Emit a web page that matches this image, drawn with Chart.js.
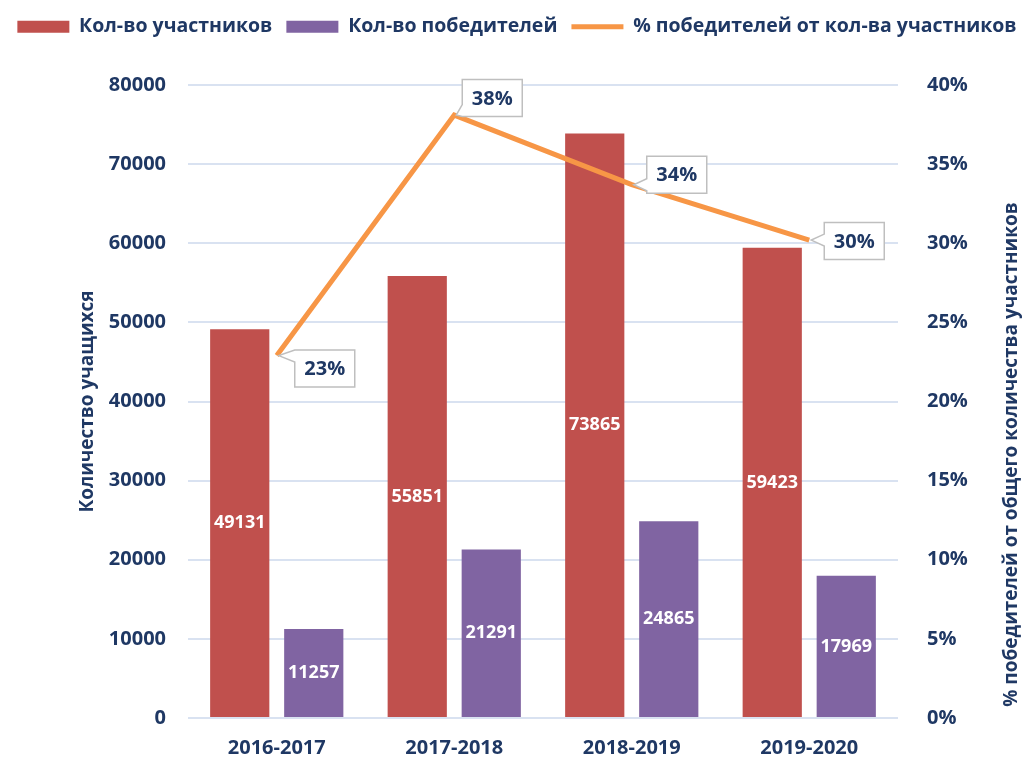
<!DOCTYPE html>
<html lang="ru">
<head>
    <meta charset="UTF-8">
    <title>Участники и победители</title>
    <script src="https://cdn.jsdelivr.net/npm/chart.js@4.4.1/dist/chart.umd.min.js"></script>
    <style>
        * { box-sizing: border-box; }
        html, body { margin: 0; padding: 0; background: #fff; }
        canvas { display: block; }
    </style>
</head>
<body>
<canvas id="chart" width="1034" height="757"></canvas>

<script>
    const categories = ["2016-2017", "2017-2018", "2018-2019", "2019-2020"];
    const participants = [49131, 55851, 73865, 59423];
    const winners = [11257, 21291, 24865, 17969];
    const winnerShare = [22.9, 38.1, 33.7, 30.2]; // %
    const countTicks = [0, 10000, 20000, 30000, 40000, 50000, 60000, 70000, 80000];
    const shareTicks = [0, 5, 10, 15, 20, 25, 30, 35, 40];

    const navy = "#1F3864";
    const FONT = "'Open Sans', 'Noto Sans', sans-serif";

    // legend band is a fixed height, the plot starts right under it
    const legendGap = {
        id: "legendGap",
        beforeLayout(chart) {
            const lg = chart.legend;
            if (lg && !lg._gapped) {
                const fit = lg.fit;
                lg.fit = function () {
                    fit.call(this);
                    this.height = 82;
                };
                lg._gapped = true;
            }
        }
    };

    // y axes shouldn't reserve room above/below the plot for their labels
    function noVertPadding(s) {
        s.paddingTop = 0;
        s.paddingBottom = 0;
    }

    // white numbers inside the bars + callouts on the line
    const labelsPlugin = {
        id: "labels",
        afterDatasetsDraw(chart, args, opts) {
            const ctx = chart.ctx;
            ctx.save();
            ctx.textAlign = "center";
            ctx.textBaseline = "middle";
            chart.data.datasets.forEach((ds, di) => {
                const meta = chart.getDatasetMeta(di);
                if (ds.type === "line") return;
                ctx.font = "bold 18px " + FONT;
                ctx.fillStyle = "#fff";
                meta.data.forEach((bar, i) => {
                    ctx.fillText(ds.data[i], bar.x, (bar.y + bar.base) / 2);
                });
            });

            const li = chart.data.datasets.findIndex(d => d.type === "line");
            const meta = chart.getDatasetMeta(li);
            ctx.font = "bold 20px " + FONT;
            meta.data.forEach((pt, i) => {
                const off = opts.offsets[i];
                const w = 60, h = 37;
                const L = pt.x + off[0], R = L + w;
                const T = pt.y + off[1] - h / 2, B = T + h;
                let a1 = Math.min(Math.max(pt.y - 6, T), B - 12);
                let a2 = a1 + 12;
                ctx.beginPath();
                ctx.moveTo(L, T);
                ctx.lineTo(R, T);
                ctx.lineTo(R, B);
                ctx.lineTo(L, B);
                ctx.lineTo(L, a2);
                ctx.lineTo(pt.x + 2, pt.y);
                ctx.lineTo(L, a1);
                ctx.closePath();
                ctx.fillStyle = "#fff";
                ctx.fill();
                ctx.strokeStyle = "#BFBFBF";
                ctx.lineWidth = 1.5;
                ctx.stroke();
                ctx.fillStyle = navy;
                ctx.fillText(Math.round(winnerShare[i]) + "%", (L + R) / 2, (T + B) / 2 + 1);
            });

            // axis titles, both reading bottom to top
            const area = chart.chartArea;
            ctx.font = "bold 19px " + FONT;
            ctx.fillStyle = navy;
            ctx.save();
            ctx.translate(88, (area.top + area.bottom) / 2);
            ctx.rotate(-Math.PI / 2);
            ctx.fillText("Количество учащихся", 0, 0);
            ctx.restore();
            ctx.save();
            ctx.translate(chart.width - 22, (area.top + area.bottom) / 2 + 53);
            ctx.rotate(-Math.PI / 2);
            ctx.fillText("% победителей от общего количества участников", 0, 0);
            ctx.restore();
            ctx.restore();
        }
    };

    new Chart(document.getElementById("chart"), {
        type: "bar",
        data: {
            labels: categories,
            datasets: [
                {
                    label: "Кол-во участников",
                    data: participants,
                    backgroundColor: "#C0504D",
                    yAxisID: "y",
                    order: 1,
                    pointStyle: "rect"
                },
                {
                    label: "Кол-во победителей",
                    data: winners,
                    backgroundColor: "#8064A2",
                    yAxisID: "y",
                    order: 1,
                    pointStyle: "rect"
                },
                {
                    type: "line",
                    label: "% победителей от кол-ва участников",
                    data: winnerShare,
                    borderColor: "#F79646",
                    backgroundColor: "#F79646",
                    borderWidth: 5,
                    pointRadius: 0,
                    tension: 0,
                    yAxisID: "y1",
                    order: 0,
                    pointStyle: "line"
                }
            ]
        },
        options: {
            responsive: false,
            animation: false,
            devicePixelRatio: 1,
            layout: { padding: { top: 3, left: 0, right: 0, bottom: 0 } },
            datasets: {
                bar: { categoryPercentage: 0.834, barPercentage: 0.8 }
            },
            plugins: {
                legend: {
                    position: "top",
                    labels: {
                        usePointStyle: true,
                        pointStyleWidth: 52,
                        boxHeight: 12,
                        padding: 14,
                        color: navy,
                        sort: (a, b) => a.datasetIndex - b.datasetIndex,
                        font: { family: FONT, size: 19.5, weight: "bold" }
                    }
                },
                tooltip: { enabled: false },
                labels: { offsets: [[18, 13], [8, -17], [15, -10], [15, 1]] }
            },
            scales: {
                x: {
                    grid: { display: false, drawTicks: false },
                    border: { display: false },
                    ticks: {
                        color: navy,
                        padding: 18,
                        maxRotation: 0,
                        font: { family: FONT, size: 20, weight: "bold" }
                    },
                    afterFit(s) { s.height = 39; }
                },
                y: {
                    position: "left",
                    min: 0,
                    max: 80000,
                    afterBuildTicks(s) { s.ticks = countTicks.map(v => ({ value: v })); },
                    grid: { color: "#D9E2F1", lineWidth: 2, drawTicks: false },
                    border: { display: false },
                    ticks: {
                        color: navy,
                        padding: 22,
                        callback: v => String(v),
                        font: { family: FONT, size: 20, weight: "bold" }
                    },
                    afterFit(s) { s.width = 188; noVertPadding(s); }
                },
                y1: {
                    position: "right",
                    min: 0,
                    max: 40,
                    afterBuildTicks(s) { s.ticks = shareTicks.map(v => ({ value: v })); },
                    grid: { display: false, drawTicks: false },
                    border: { display: false },
                    ticks: {
                        color: navy,
                        padding: 29,
                        callback: v => v + "%",
                        font: { family: FONT, size: 20, weight: "bold" }
                    },
                    afterFit(s) { s.width = 136; noVertPadding(s); }
                }
            }
        },
        plugins: [legendGap, labelsPlugin]
    });
</script>
</body>
</html>
